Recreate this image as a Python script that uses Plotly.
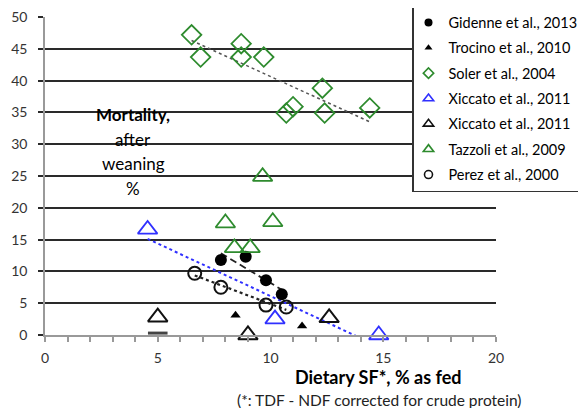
import numpy as np
import plotly.graph_objects as go

# values
gidenne_x = [7.8, 8.9, 9.8, 10.5]
gidenne_y = [11.8, 12.3, 8.6, 6.4]

trocino_x = [8.45, 11.4]
trocino_y = [3.1, 1.4]

soler_x = [6.5, 6.9, 8.7, 8.7, 9.7, 10.7, 11.0, 12.3, 12.4, 14.4]
soler_y = [47.2, 43.7, 45.8, 43.7, 43.7, 34.9, 35.9, 38.8, 34.9, 35.7]

xiccato_blue_x = [4.55, 10.2, 14.8]
xiccato_blue_y = [16.6, 2.5, 0.0]

xiccato_black_x = [5.0, 9.0, 12.6]
xiccato_black_y = [2.8, 0.0, 2.7]

tazzoli_x = [9.65, 8.0, 10.1, 8.4, 9.1]
tazzoli_y = [24.9, 17.6, 17.8, 13.7, 13.7]

perez_x = [6.64, 7.8, 9.8, 10.7]
perez_y = [9.7, 7.5, 4.7, 4.4]

stray_x = [5.0]
stray_y = [0.3]

GREEN = "#2e8b2e"
BLUE = "#3030ff"
FONT = "Lato, 'Open Sans', sans-serif"

# plot area in figure pixels (page shows the figure 8px in from the corner)
W, H = 586, 408
L, R, T, B = 37, 98, 9, 81
PW, PH = W - L - R, H - T - B


def px(fx):
    return (fx - L) / PW


def py(fy):
    return 1 - (fy - T) / PH


def trend(xs, ys):
    """Least-squares line over the series' x extent (as Excel draws it)."""
    k, b = np.polyfit(xs, ys, 1)
    lo, hi = min(xs), max(xs)
    return [lo, hi], [k * lo + b, k * hi + b]


fig = go.Figure()

# trendlines first so markers sit on top
for xs, ys, color, dash, width in [
    (soler_x, soler_y, "#555555", "3px,3px", 1.5),
    (gidenne_x, gidenne_y, "#222222", "7px,4px", 1.8),
    (perez_x, perez_y, "#222222", "dot", 2.2),
    (xiccato_blue_x, xiccato_blue_y, BLUE, "dot", 2),
]:
    tx, ty = trend(xs, ys)
    fig.add_trace(go.Scatter(x=tx, y=ty, mode="lines", showlegend=False,
                             line=dict(color=color, dash=dash, width=width),
                             hoverinfo="skip"))

series = [
    ("Gidenne et al., 2013", gidenne_x, gidenne_y,
     dict(symbol="circle", size=12, color="black"), 8),
    ("Trocino et al., 2010", trocino_x, trocino_y,
     dict(symbol="triangle-up", size=9, color="black"), 7),
    ("Soler et al., 2004", soler_x, soler_y,
     dict(symbol="diamond-open", size=15, color=GREEN, line=dict(width=1.8)), 8),
    ("Xiccato et al., 2011", xiccato_blue_x, xiccato_blue_y,
     dict(symbol="triangle-up-open", size=17, color=BLUE, line=dict(width=1.8)), 9),
    ("Xiccato et al., 2011 ", xiccato_black_x, xiccato_black_y,
     dict(symbol="triangle-up-open", size=17, color="#111111", line=dict(width=2)), 9),
    ("Tazzoli et al., 2009", tazzoli_x, tazzoli_y,
     dict(symbol="triangle-up-open", size=17, color=GREEN, line=dict(width=1.8)), 9),
    ("Perez et al., 2000", perez_x, perez_y,
     dict(symbol="circle-open", size=13, color="#111111", line=dict(width=2)), 8),
]

for i, (name, xs, ys, marker, legsize) in enumerate(series):
    fig.add_trace(go.Scatter(x=xs, y=ys, mode="markers", marker=marker,
                             showlegend=False, cliponaxis=False, name=name))
    leg_marker = dict(marker)
    leg_marker["size"] = legsize
    if "line" in leg_marker:
        leg_marker["line"] = dict(width=1.6)
    fig.add_trace(go.Scatter(x=[None], y=[None], mode="markers", name=name,
                             marker=leg_marker, legendgroup=f"g{i}"))

fig.add_trace(go.Scatter(x=stray_x, y=stray_y, mode="markers", showlegend=False,
                         cliponaxis=False,
                         marker=dict(symbol="line-ew", size=14,
                                     line=dict(width=3, color="#444444"))))

fig.update_xaxes(
    range=[0, 20], tickvals=[0, 5, 10, 15, 20], showgrid=False, zeroline=False,
    showline=True, linecolor="#999999", linewidth=1.5,
    ticks="outside", ticklen=5, tickcolor="#999999", tickwidth=1.5,
    minor=dict(dtick=1, ticks="outside", ticklen=5, tickcolor="#999999", tickwidth=1.5),
    tickfont=dict(size=14, color="#333333", family=FONT), ticklabelstandoff=4,
    automargin=False, ticklabeloverflow="allow",
)
fig.update_yaxes(
    range=[0, 50], tickvals=list(range(0, 51, 5)), showgrid=True,
    gridcolor="#2a2a2a", gridwidth=2, zeroline=False,
    showline=True, linecolor="#999999", linewidth=1.5,
    ticks="outside", ticklen=5, tickcolor="#2a2a2a", tickwidth=2,
    tickfont=dict(size=14, color="#333333", family=FONT), ticklabelstandoff=8,
    automargin=False, ticklabeloverflow="allow",
)

# white patch behind the y-axis caption, above the gridlines
fig.add_shape(type="rect", xref="paper", yref="paper",
              x0=px(79), x1=px(172), y0=py(192), y1=py(83),
              fillcolor="white", line_width=0, layer="between")

for text, fy in [("<b>Mortality,</b>", 107), ("after", 131),
                 ("weaning", 155), ("%", 180)]:
    fig.add_annotation(
        xref="paper", yref="paper", x=px(125), y=py(fy),
        xanchor="center", yanchor="middle", text=text, showarrow=False,
        font=dict(size=17, color="black", family=FONT),
    )

fig.add_annotation(
    xref="paper", yref="paper", x=px(370), y=py(369), xanchor="center", yanchor="middle",
    text="<b>Dietary SF*, % as fed</b>", showarrow=False,
    font=dict(size=18, color="black", family=FONT),
)
fig.add_annotation(
    xref="paper", yref="paper", x=px(371), y=py(392), xanchor="center", yanchor="middle",
    text="(*: TDF - NDF corrected for crude protein)", showarrow=False,
    font=dict(size=15.5, color="#222222", family=FONT),
)

fig.update_layout(
    width=W, height=H,
    margin=dict(l=L, r=R, t=T, b=B, autoexpand=False),
    paper_bgcolor="white", plot_bgcolor="white",
    font=dict(family=FONT, color="black"),
    showlegend=True,
    legend=dict(
        x=px(404), y=py(-3), xanchor="left", yanchor="top",
        bgcolor="white", bordercolor="#333333", borderwidth=1.5,
        font=dict(size=14.5, color="black", family=FONT),
        tracegroupgap=3.5, itemwidth=30, indentation=-5,
    ),
)

fig.write_html("out.html")
